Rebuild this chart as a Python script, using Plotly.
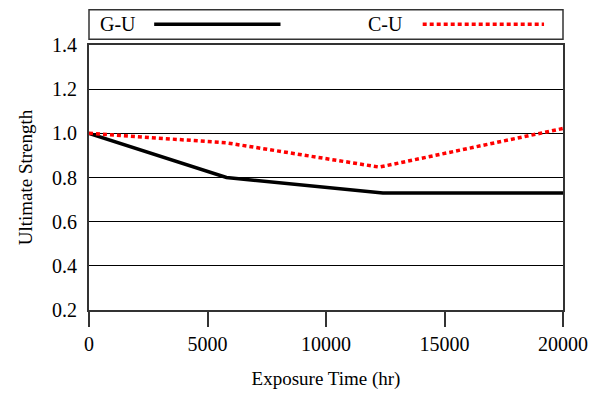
import plotly.graph_objects as go

# Data
gu_hours = [0, 5800, 12400, 20000]
gu_strength = [1.0, 0.80, 0.73, 0.73]
cu_hours = [0, 5800, 12250, 20000]
cu_strength = [1.0, 0.957, 0.847, 1.022]
x_ticks = [0, 5000, 10000, 15000, 20000]
y_ticks = [0.2, 0.4, 0.6, 0.8, 1.0, 1.2, 1.4]

FONT = "Liberation Serif"

fig = go.Figure()
fig.add_trace(go.Scatter(x=gu_hours, y=gu_strength, mode="lines", name="G-U",
                         line=dict(color="black", width=3.5), showlegend=False))
fig.add_trace(go.Scatter(x=cu_hours, y=cu_strength, mode="lines", name="C-U",
                         line=dict(color="#ff0000", width=3.5, dash="4px,3px"), showlegend=False))

fig.update_layout(
    width=600, height=398,
    margin=dict(l=89, r=31, t=45, b=83),
    paper_bgcolor="white", plot_bgcolor="white",
    font=dict(family=FONT, size=20, color="black"),
    xaxis=dict(range=[0, 20000], tickvals=x_ticks, ticktext=[str(v) for v in x_ticks],
               showgrid=False, zeroline=False, showline=True, linecolor="#333", linewidth=2,
               mirror=True, ticks="outside", ticklen=15, tickwidth=2, tickcolor="#333",
               title=dict(text="Exposure Time (hr)", font=dict(size=19), standoff=18)),
    yaxis=dict(range=[0.2, 1.4], tickvals=y_ticks, ticktext=[f"{v:.1f}" for v in y_ticks],
               showgrid=True, gridcolor="black", gridwidth=1, zeroline=False,
               showline=True, linecolor="#333", linewidth=2, mirror=True, ticks="",
               ticklabelstandoff=6,
               title=dict(text="Ultimate Strength", font=dict(size=19), standoff=14)),
)

# Legend box (drawn manually: label text precedes its line sample)
fig.add_shape(type="rect", xref="paper", yref="paper", x0=0, x1=1, y0=1.022, y1=1.133,
              line=dict(color="#333", width=1.5), fillcolor="white")
fig.add_shape(type="line", xref="paper", yref="paper", x0=0.1375, x1=0.404, y0=1.078, y1=1.078,
              line=dict(color="black", width=3.5))
fig.add_shape(type="line", xref="paper", yref="paper", x0=0.704, x1=0.96, y0=1.078, y1=1.078,
              line=dict(color="#ff0000", width=3.5, dash="4px,3px"))
fig.add_annotation(text="G-U", xref="paper", yref="paper", x=0.02, y=1.078,
                   xanchor="left", yanchor="middle", showarrow=False, font=dict(size=20))
fig.add_annotation(text="C-U", xref="paper", yref="paper", x=0.585, y=1.078,
                   xanchor="left", yanchor="middle", showarrow=False, font=dict(size=20))

fig.write_html("out.html")
